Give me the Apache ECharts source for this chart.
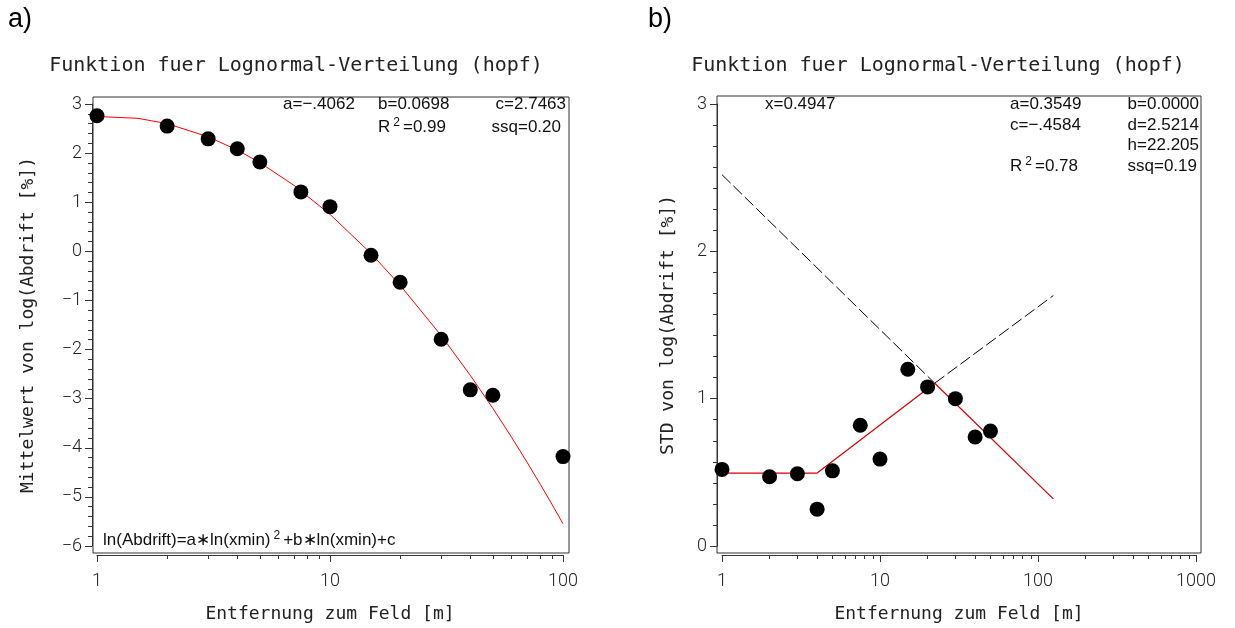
<!DOCTYPE html>
<html><head><meta charset="utf-8">
<script src="https://cdn.jsdelivr.net/npm/echarts@6/dist/echarts.min.js"></script>
<style>html,body{margin:0;padding:0;background:#fff}#c{width:1235px;height:628px}</style>
</head><body><div id="c"></div>
<script>
// ---- panel a) data ----
const distA = [1, 2, 3, 4, 5, 7.5, 10, 15, 20, 30, 40, 50, 100];
const meanA = [2.76, 2.55, 2.29, 2.09, 1.82, 1.21, 0.91, -0.08, -0.63, -1.79, -2.82, -2.93, -4.18];
const fitAX = [1, 1.5, 2, 3, 4, 5, 7, 10, 15, 20, 30, 40, 50, 60, 70, 80, 90, 100];
const fitAY = [2.746, 2.708, 2.600, 2.333, 2.062, 1.806, 1.344, 0.753, -0.043, -0.690, -1.715, -2.524, -3.197, -3.777, -4.289, -4.748, -5.165, -5.547];
// ---- panel b) data ----
const distB = [1, 2, 3, 4, 5, 7.5, 10, 15, 20, 30, 40, 50];
const stdB = [0.52, 0.47, 0.49, 0.25, 0.51, 0.82, 0.59, 1.20, 1.08, 1.00, 0.74, 0.78];
const fitBX = [1, 4, 22.2, 125];
const fitBY = [0.495, 0.495, 1.105, 0.32];
const dashDownX = [1, 22.2];
const dashDownY = [2.52, 1.105];
const dashUpX = [22.2, 125];
const dashUpY = [1.105, 1.70];
// ---- tick values ----
const minorXA = [2, 3, 4, 5, 6, 7, 8, 9, 20, 30, 40, 50, 60, 70, 80, 90];
const minorXB = [2, 3, 4, 5, 6, 7, 8, 9, 20, 30, 40, 50, 60, 70, 80, 90, 200, 300, 400, 500, 600, 700, 800, 900];

const zip = (xs, ys) => xs.map((x, i) => [x, ys[i]]);
const LINE = '#333';
const TICKFONT = {fontFamily: 'Roboto', fontWeight: 300, fontSize: 18, color: '#222'};
const NAMEFONT = {fontFamily: 'DejaVu Sans Mono', fontSize: 18, color: '#222'};
const minus = v => (v < 0 ? '\u2212' + (-v) : String(v));

function frameGrid(l, t, w, h) {
  return {left: l, top: t, width: w, height: h, show: true, borderColor: LINE, borderWidth: 1, backgroundColor: 'transparent'};
}
function mainX(grid, max, name) {
  return {gridIndex: grid, type: 'log', logBase: 10, min: 1, max: max, offset: 9, position: 'bottom',
    axisLine: {show: true, onZero: false, lineStyle: {color: LINE, width: 1}},
    axisTick: {show: true, inside: false, length: 7, lineStyle: {color: LINE}},
    axisLabel: Object.assign({margin: 17, formatter: v => String(v)}, TICKFONT),
    splitLine: {show: false},
    name: name, nameLocation: 'middle', nameGap: 50, nameTextStyle: NAMEFONT};
}
function minorX(grid, max, vals) {
  return {gridIndex: grid, type: 'log', logBase: 10, min: 1, max: max, offset: 9, position: 'bottom',
    axisLine: {show: false, onZero: false},
    axisTick: {show: true, inside: false, length: 4, customValues: vals, lineStyle: {color: LINE}},
    axisLabel: {show: false}, splitLine: {show: false}};
}
function mainY(grid, min, max, split, name, gap) {
  return {gridIndex: grid, type: 'value', min: min, max: max, interval: 1, offset: 5, position: 'left',
    axisLine: {show: true, onZero: false, lineStyle: {color: LINE, width: 1}},
    axisTick: {show: true, inside: false, length: 7, lineStyle: {color: LINE}},
    minorTick: {show: true, splitNumber: split, length: 4, lineStyle: {color: LINE}},
    axisLabel: Object.assign({margin: 10, formatter: minus}, TICKFONT),
    splitLine: {show: false}, minorSplitLine: {show: false},
    name: name, nameLocation: 'middle', nameGap: gap, nameTextStyle: NAMEFONT};
}
const hidden = g => ({gridIndex: g, type: 'value', show: false});

const ANN = {fontFamily: 'Liberation Sans', fontSize: 17, fill: '#111'};
const SUP = {s: {fontSize: 12, padding: [0, 3, 9, 3]}};
function txt(x, y, text, align) {
  return {type: 'text', x: x, y: y, silent: true,
    style: Object.assign({text: text, align: align || 'left', verticalAlign: 'middle', rich: SUP}, ANN)};
}
const TITLE = {fontFamily: 'DejaVu Sans Mono', fontSize: 20, fill: '#222', align: 'center', verticalAlign: 'middle'};

const chart = echarts.init(document.getElementById('c'), null, {renderer: 'canvas'});
chart.setOption({
  backgroundColor: '#fff',
  animation: false,
  grid: [
    frameGrid(93, 97, 476, 456),
    {left: 97, top: 104, width: 466, height: 443},
    frameGrid(717, 96, 484, 457),
    {left: 722, top: 104, width: 474, height: 443}
  ],
  xAxis: [
    hidden(0),
    mainX(1, 100, 'Entfernung zum Feld [m]'),
    minorX(1, 100, minorXA),
    hidden(2),
    mainX(3, 1000, 'Entfernung zum Feld [m]'),
    minorX(3, 1000, minorXB)
  ],
  yAxis: [
    hidden(0),
    mainY(1, -6, 3, 5, 'Mittelwert von log(Abdrift [%])', 55),
    hidden(2),
    mainY(3, 0, 3, 7, 'STD von log(Abdrift [%])', 40)
  ],
  series: [
    {type: 'line', xAxisIndex: 1, yAxisIndex: 1, data: zip(fitAX, fitAY), symbol: 'none', clip: false,
      lineStyle: {color: '#ff0000', width: 1}, z: 2},
    {type: 'scatter', xAxisIndex: 1, yAxisIndex: 1, data: zip(distA, meanA), symbolSize: 15, clip: false,
      itemStyle: {color: '#000', opacity: 1}, z: 3},
    {type: 'line', xAxisIndex: 4, yAxisIndex: 3, data: zip(dashDownX, dashDownY), symbol: 'none', clip: false,
      lineStyle: {color: '#000', width: 1, type: [12, 4]}, z: 2},
    {type: 'line', xAxisIndex: 4, yAxisIndex: 3, data: zip(dashUpX, dashUpY), symbol: 'none', clip: false,
      lineStyle: {color: '#000', width: 1, type: [12, 4]}, z: 2},
    {type: 'line', xAxisIndex: 4, yAxisIndex: 3, data: zip(fitBX, fitBY), symbol: 'none', clip: false,
      lineStyle: {color: '#d40000', width: 1.2}, z: 2},
    {type: 'scatter', xAxisIndex: 4, yAxisIndex: 3, data: zip(distB, stdB), symbolSize: 15, clip: false,
      itemStyle: {color: '#000', opacity: 1}, z: 3}
  ],
  graphic: [
    {type: 'text', left: 8, top: 6, silent: true, style: {text: 'a)', fontFamily: 'Liberation Sans', fontSize: 27, fill: '#000'}},
    {type: 'text', left: 648, top: 6, silent: true, style: {text: 'b)', fontFamily: 'Liberation Sans', fontSize: 27, fill: '#000'}},
    {type: 'text', x: 296, y: 66, silent: true, style: Object.assign({text: 'Funktion fuer Lognormal-Verteilung (hopf)'}, TITLE)},
    {type: 'text', x: 938, y: 66, silent: true, style: Object.assign({text: 'Funktion fuer Lognormal-Verteilung (hopf)'}, TITLE)},
    txt(283, 104, 'a=\u2212.4062'),
    txt(378, 104, 'b=0.0698'),
    txt(566, 104, 'c=2.7463', 'right'),
    txt(378, 127, 'R{s|2}=0.99'),
    txt(561, 127, 'ssq=0.20', 'right'),
    txt(103, 540, 'ln(Abdrift)=a\u2217ln(xmin){s|2}+b\u2217ln(xmin)+c'),
    txt(765, 104, 'x=0.4947'),
    txt(1010, 104, 'a=0.3549'),
    txt(1199, 104, 'b=0.0000', 'right'),
    txt(1010, 125, 'c=\u2212.4584'),
    txt(1199, 125, 'd=2.5214', 'right'),
    txt(1199, 145, 'h=22.205', 'right'),
    txt(1010, 166, 'R{s|2}=0.78'),
    txt(1197, 166, 'ssq=0.19', 'right')
  ]
});
</script>
</body></html>
